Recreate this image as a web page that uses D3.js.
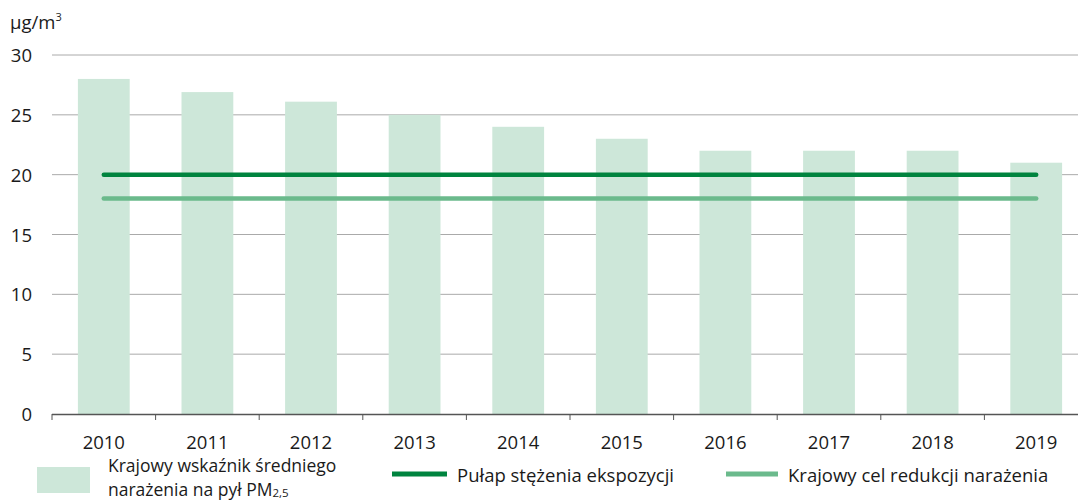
<!DOCTYPE html>
<html><head><meta charset="utf-8">
<script src="https://cdn.jsdelivr.net/npm/d3@7"></script>
<style>body{margin:0;background:#fff}text{font-family:"Open Sans","Noto Sans",sans-serif;fill:#1a1a1a}</style>
</head><body>
<svg id="c" width="1078" height="501"></svg>
<script>
const years = ["2010","2011","2012","2013","2014","2015","2016","2017","2018","2019"];
const exposure = [28, 26.9, 26.1, 25, 24, 23, 22, 22, 22, 21];
const ceiling = [20,20,20,20,20,20,20,20,20,20];
const target = [18,18,18,18,18,18,18,18,18,18];
const yTicks = [0,5,10,15,20,25,30];
const labels = ["Krajowy wskaźnik średniego", "Pułap stężenia ekspozycji", "Krajowy cel redukcji narażenia"];

const svg = d3.select("#c");
const x = d3.scaleBand().domain(years).range([52, 52 + 10*103.6]).paddingInner(0.5).paddingOuter(0.25);
const y = d3.scaleLinear().domain([0,30]).range([414, 55]);
const cBar = "#cde7d9", cDark = "#00843f", cLight = "#6bba8c";
const fs = 18.5, lfs = 18.5, lfs1 = 17.5;

// grid
svg.append("g").selectAll("line").data(yTicks.filter(d=>d>0)).join("line")
  .attr("x1",52).attr("x2",1078).attr("y1",d=>y(d)).attr("y2",d=>y(d))
  .attr("stroke","#aaaaaa").attr("stroke-width",1);
// y labels
svg.append("g").selectAll("text").data(yTicks).join("text")
  .attr("x",32).attr("y",d=>y(d)+7).attr("text-anchor","end").attr("font-size",fs).text(d=>d);
// unit
const u = svg.append("text").attr("x",10).attr("y",29).attr("font-size",fs);
u.append("tspan").text("µg/m");
u.append("tspan").attr("font-size",11).attr("dy",-8).text("3");

// bars
svg.append("g").selectAll("rect").data(years).join("rect")
  .attr("x",d=>x(d)).attr("width",x.bandwidth())
  .attr("y",(d,i)=>y(exposure[i])).attr("height",(d,i)=>y(0)-y(exposure[i]))
  .attr("fill",cBar);

// lines
const line = d3.line().x((d,i)=>x(years[i])+x.bandwidth()/2).y(d=>y(d));
svg.append("path").attr("d",line(target)).attr("fill","none").attr("stroke",cLight).attr("stroke-width",4.5).attr("stroke-linecap","round");
svg.append("path").attr("d",line(ceiling)).attr("fill","none").attr("stroke",cDark).attr("stroke-width",4.5).attr("stroke-linecap","round");

// x axis
svg.append("line").attr("x1",52).attr("x2",1078).attr("y1",414.5).attr("y2",414.5).attr("stroke","#555").attr("stroke-width",1.6);
svg.append("g").selectAll("line").data(years).join("line")
  .attr("x1",d=>x(d)-x.step()*0.25).attr("x2",d=>x(d)-x.step()*0.25)
  .attr("y1",414).attr("y2",420).attr("stroke","#555").attr("stroke-width",1);
svg.append("g").selectAll("text").data(years).join("text")
  .attr("x",d=>x(d)+x.bandwidth()/2).attr("y",449).attr("text-anchor","middle").attr("font-size",fs).text(d=>d);

// legend
svg.append("rect").attr("x",37).attr("y",467).attr("width",53).attr("height",26).attr("fill",cBar);
svg.append("text").attr("x",108).attr("y",472).attr("font-size",lfs1).text(labels[0]);
const t2 = svg.append("text").attr("x",108).attr("y",495.5).attr("font-size",lfs1);
t2.append("tspan").text("narażenia na pył PM");
t2.append("tspan").attr("font-size",11.5).attr("dy",1).text("2,5");

svg.append("line").attr("x1",392).attr("x2",447).attr("y1",474).attr("y2",474).attr("stroke",cDark).attr("stroke-width",5);
svg.append("text").attr("x",457).attr("y",482).attr("font-size",lfs).text(labels[1]);
svg.append("line").attr("x1",726).attr("x2",778).attr("y1",474).attr("y2",474).attr("stroke",cLight).attr("stroke-width",5);
svg.append("text").attr("x",788).attr("y",482).attr("font-size",lfs).text(labels[2]);
</script>
</body></html>
